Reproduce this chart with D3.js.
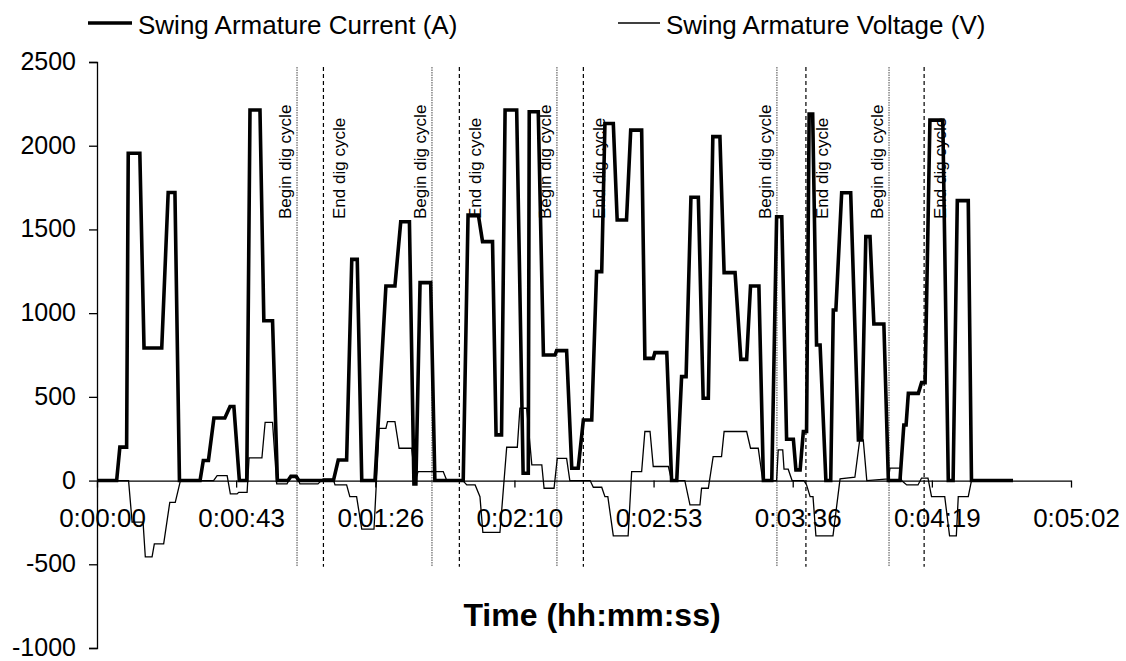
<!DOCTYPE html>
<html>
<head>
<meta charset="utf-8">
<script src="https://cdn.jsdelivr.net/npm/d3@7"></script>
<style>
  html, body { margin: 0; padding: 0; background: #fff; }
  svg { display: block; }
  text { font-family: "Liberation Sans", Arial, sans-serif; fill: #000; }
</style>
</head>
<body>
<svg id="chart" width="1126" height="661"></svg>
<script>
// Swing motor armature current (A): time in seconds, value in amps
const currentTime = [0, 6.1, 7.1, 9.2, 9.7, 13.3, 14.6, 20.1, 22.1, 24.2, 25.6, 32.0, 33.0, 34.6, 36.3, 39.7, 41.3, 42.5, 44.2, 46.5,
  47.5, 50.6, 51.8, 54.5, 56.0, 59.3, 60.2, 61.8, 62.7, 73.4, 74.9, 77.5, 79.1, 80.8, 82.2, 86.3, 89.7, 92.5, 94.3, 97.0,
  98.4, 99.0, 100.3, 103.6, 104.9, 113.7, 115.2, 118.4, 119.7, 122.8, 123.9, 125.6, 126.7, 130.3, 132.3, 133.9, 134.2, 137.0,
  138.6, 142.2, 142.7, 145.8, 147.4, 149.4, 151.0, 153.6, 155.1, 156.7, 157.7, 160.3, 161.5, 164.4, 165.7, 169.1, 170.1, 172.7,
  173.2, 176.9, 178.4, 180.0, 181.5, 182.9, 184.4, 186.7, 188.2, 189.8, 191.2, 193.4, 194.7, 198.1, 199.9, 201.7, 202.9, 205.5,
  206.9, 209.5, 211.0, 212.6, 214.1, 216.2, 217.0, 218.3, 219.3, 220.3, 221.1, 222.2, 223.4, 224.5, 226.3, 227.8, 228.6, 229.4,
  231.2, 234.0, 236.4, 237.4, 238.7, 240.0, 241.2, 244.3, 245.7, 249.3, 250.5, 251.2, 251.9, 255.0, 256.0, 257.1, 258.6, 262.6,
  264.3, 265.8, 267.1, 270.5, 271.5, 284.4];
const currentAmps = [0, 0, 200, 200, 1955, 1955, 792, 792, 1721, 1721, 0, 0, 120, 120, 374, 374, 442, 442, 0, 0,
  2213, 2213, 955, 955, 0, 0, 25, 25, 0, 0, 123, 123, 1321, 1321, 0, 0, 1162, 1162, 1546, 1546,
  -20, -20, 1182, 1182, 0, 0, 1586, 1586, 1427, 1427, 273, 273, 2213, 2213, 44, 44, 2203, 2203,
  750, 750, 776, 776, 74, 74, 362, 362, 1248, 1248, 2133, 2133, 1556, 1556, 2093, 2093, 730, 730,
  764, 764, 0, 0, 621, 621, 1692, 1692, 492, 492, 2054, 2054, 1242, 1242, 724, 724, 1162, 1162,
  0, 0, 1576, 1576, 247, 247, 64, 64, 293, 293, 2189, 2189, 810, 810, 0, 0, 1019, 1019,
  1719, 1719, 243, 243, 1457, 1457, 935, 935, 0, 0, 332, 332, 521, 521, 585, 585, 2153, 2153,
  0, 0, 1672, 1672, 0, 0];

// Swing motor armature voltage (V): time in seconds, value in volts
const voltageTime = [0, 9.8, 10.9, 14.3, 15.0, 17.1, 17.8, 20.7, 22.6, 24.3, 25.9, 36.2, 37.3, 40.4, 41.4, 43.5, 44.0, 46.6,
  47.2, 51.2, 52.2, 54.5, 55.8, 59.0, 60.2, 62.1, 63.0, 68.6, 70.2, 73.3, 73.9, 77.5, 78.5, 80.6, 82.2, 86.0, 87.6, 89.7,
  90.2, 92.5, 93.8, 97.7, 98.8, 99.7, 107.5, 108.6, 113.6, 114.8, 117.4, 118.9, 119.8, 125.1, 127.2, 130.5, 131.3, 133.4,
  135.0, 138.1, 138.8, 141.9, 142.9, 145.8, 146.8, 153.1, 154.1, 156.7, 157.7, 158.6, 160.3, 164.9, 166.0, 169.1, 170.1,
  171.7, 172.7, 177.4, 178.4, 182.5, 184.1, 187.2, 187.7, 189.8, 191.3, 193.9, 194.7, 201.7, 202.9, 205.3, 206.7, 211.0,
  211.5, 212.9, 213.3, 214.6, 215.8, 219.5, 220.3, 221.4, 222.3, 223.2, 228.5, 230.7, 235.3, 236.8, 237.9, 239.0, 245.7,
  246.2, 249.3, 249.8, 251.4, 254.9, 256.0, 258.0, 259.1, 263.2, 264.7, 266.8, 267.4, 270.5, 271.5, 284.4];
const voltageVolts = [0, 0, -248, -248, -456, -456, -378, -378, -130, -130, 0, 0, 30, 30, -80, -80, -70, -70,
  135, 135, 348, 348, -20, -20, 30, 30, -20, -20, 10, 10, -26, -26, -96, -96, -290, -290, 312, 312,
  352, 352, 193, 193, 0, 54, 54, 0, 0, -26, -26, -96, -310, -310, 199, 199, 432, 432,
  94, 94, -46, -46, 133, 133, 0, 0, -40, -40, -96, -96, -330, -330, 54, 54, 293,
  293, 84, 84, 0, 0, -145, -145, -46, -46, 143, 143, 293, 293, 193, 193, 0, 0,
  183, 183, 68, 68, 0, 0, -26, -96, -96, -330, -330, 10, 20, 243, 243, 0, 10,
  74, 74, 0, -26, -26, 15, 15, -96, -96, -330, -330, -96, -96, 0, 0];

// Dig cycle markers (seconds)
const beginCycle = [62.1, 104.0, 142.8, 211.1, 245.9];
const endCycle = [70.3, 112.5, 151.0, 220.1, 256.8];

// Axis ticks
const yTicks = [-1000, -500, 0, 500, 1000, 1500, 2000, 2500];
const xTicks = [0, 43.2, 86.4, 129.6, 172.8, 216.0, 259.2, 302.4];
const xTickLabels = ["0:00:00", "0:00:43", "0:01:26", "0:02:10", "0:02:53", "0:03:36", "0:04:19", "0:05:02"];

const seriesNames = ["Swing Armature Current (A)", "Swing Armature Voltage (V)"];

const svg = d3.select("#chart");
const x = d3.scaleLinear().domain([0, 302.4]).range([97, 1071]);
const y = d3.scaleLinear().domain([-1000, 2500]).range([648, 62]);

// Marker lines span from just below the top of the plot to below the x labels
const markerTop = 2470, markerBottom = -515;

const markers = svg.append("g");
markers.selectAll("line.begin").data(beginCycle).join("line")
  .attr("class", "begin")
  .attr("x1", d => x(d)).attr("x2", d => x(d))
  .attr("y1", y(markerTop)).attr("y2", y(markerBottom))
  .attr("stroke", "#444").attr("stroke-width", 1).attr("stroke-dasharray", "1.5,1");
markers.selectAll("line.end").data(endCycle).join("line")
  .attr("class", "end")
  .attr("x1", d => x(d)).attr("x2", d => x(d))
  .attr("y1", y(markerTop)).attr("y2", y(markerBottom))
  .attr("stroke", "#000").attr("stroke-width", 1.2).attr("stroke-dasharray", "4,3");

markers.selectAll("text.begin").data(beginCycle).join("text")
  .attr("class", "begin")
  .attr("transform", d => `translate(${x(d) - 6},219) rotate(-90)`)
  .attr("font-size", 17)
  .text("Begin dig cycle");
markers.selectAll("text.end").data(endCycle).join("text")
  .attr("class", "end")
  .attr("transform", d => `translate(${x(d) + 22},219) rotate(-90)`)
  .attr("font-size", 17)
  .text("End dig cycle");

// Axes
const yAxis = d3.axisLeft(y).tickValues(yTicks).tickSize(8).tickPadding(13).tickFormat(d => String(d));
const gy = svg.append("g").attr("transform", `translate(${x(0)},0)`).call(yAxis);
gy.select(".domain").attr("stroke", "#000").attr("stroke-width", 1.3);
gy.selectAll(".tick line").attr("stroke", "#000").attr("stroke-width", 1.3);
gy.selectAll(".tick text").attr("font-size", 25).attr("font-family", "Liberation Sans, Arial, sans-serif")
  .attr("dy", "0.3em");

const xAxis = d3.axisBottom(x).tickValues(xTicks).tickSize(7).tickSizeOuter(0)
  .tickFormat((d, i) => xTickLabels[i]);
const gx = svg.append("g").attr("transform", `translate(0,${y(0)})`).call(xAxis);
gx.select(".domain").attr("stroke", "#000").attr("stroke-width", 1.3);
gx.selectAll(".tick line").attr("stroke", "#000").attr("stroke-width", 1.3);
gx.selectAll(".tick text").attr("font-size", 26).attr("font-family", "Liberation Sans, Arial, sans-serif")
  .attr("y", 0).attr("dy", 0).attr("transform", "translate(5,46)");

// Series
const lineGen = d3.line().x(d => x(d[0])).y(d => y(d[1]));
const voltagePts = voltageTime.map((t, i) => [t, voltageVolts[i]]);
const currentPts = currentTime.map((t, i) => [t, currentAmps[i]]);

svg.append("path").datum(voltagePts)
  .attr("d", lineGen).attr("fill", "none")
  .attr("stroke", "#000").attr("stroke-width", 1.3).attr("stroke-linejoin", "miter");
svg.append("path").datum(currentPts)
  .attr("d", lineGen).attr("fill", "none")
  .attr("stroke", "#000").attr("stroke-width", 3.6).attr("stroke-linejoin", "miter");

// Axis title
svg.append("text")
  .attr("x", 592).attr("y", 626)
  .attr("text-anchor", "middle")
  .attr("font-size", 32).attr("font-weight", "bold")
  .text("Time (hh:mm:ss)");

// Legend
const legend = svg.append("g");
const legendItems = [
  { name: seriesNames[0], x0: 88, x1: 132, w: 3.4 },
  { name: seriesNames[1], x0: 618, x1: 660, w: 1.4 }
];
legendItems.forEach(it => {
  legend.append("line")
    .attr("x1", it.x0).attr("x2", it.x1).attr("y1", 23).attr("y2", 23)
    .attr("stroke", "#000").attr("stroke-width", it.w);
  legend.append("text")
    .attr("x", it.x1 + 6).attr("y", 34)
    .attr("font-size", 26)
    .text(it.name);
});
</script>
</body>
</html>
